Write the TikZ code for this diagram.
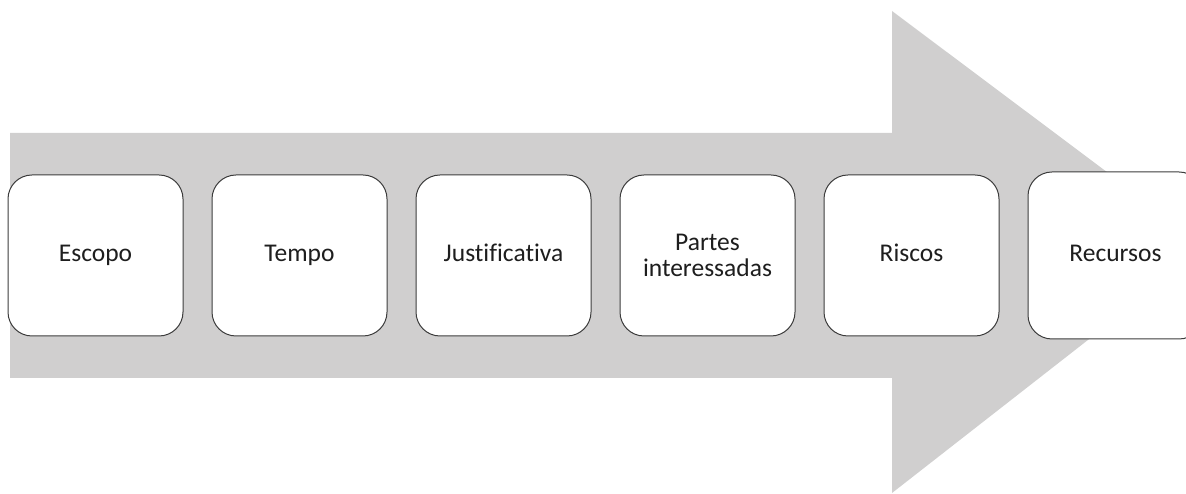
\documentclass[tikz,border=0pt]{standalone}
\usepackage{fontspec}
\setmainfont[Ligatures=NoCommon]{Carlito}
\usetikzlibrary{positioning}
\definecolor{arrowgray}{RGB}{208,207,207}
\definecolor{boxline}{RGB}{60,60,60}
\definecolor{boxtext}{RGB}{30,30,30}
\tikzset{
    x=1pt, y=1pt, % one unit is one pixel of the reference
    phase/.style={draw=boxline, line width=1pt, fill=white, rounded corners=24pt,
        minimum width=175pt, minimum height=161pt, align=center, text=boxtext,
        text height=19pt, text depth=6pt,
        font=\fontsize{25.5}{26}\selectfont}, % the white boxes
    node distance=28pt, % gap between two boxes
}
\begin{document}
\begin{tikzpicture}
    \clip (0,0) rectangle (1186,494);
    \useasboundingbox (0,0) rectangle (1186,494);
    % big gray arrow behind the boxes
    \fill[arrowgray] (10,116) -- (10,361) -- (892,361) -- (892,483)
        -- (1207,247) -- (892,1) -- (892,116) -- cycle;
    \node[phase] at (95.5,238.5) (esc) {Escopo};
    \node[phase, right=of esc] (tem) {Tempo};
    \node[phase, right=of tem] (jus) {Justificativa};
    \node[phase, text height=, text depth=, right=of jus] (par) {Partes\\interessadas};
    \node[phase, right=of par] (ris) {Riscos};
    \node[phase, minimum height=167pt, right=of ris] (rec) {Recursos};
\end{tikzpicture}
\end{document}
